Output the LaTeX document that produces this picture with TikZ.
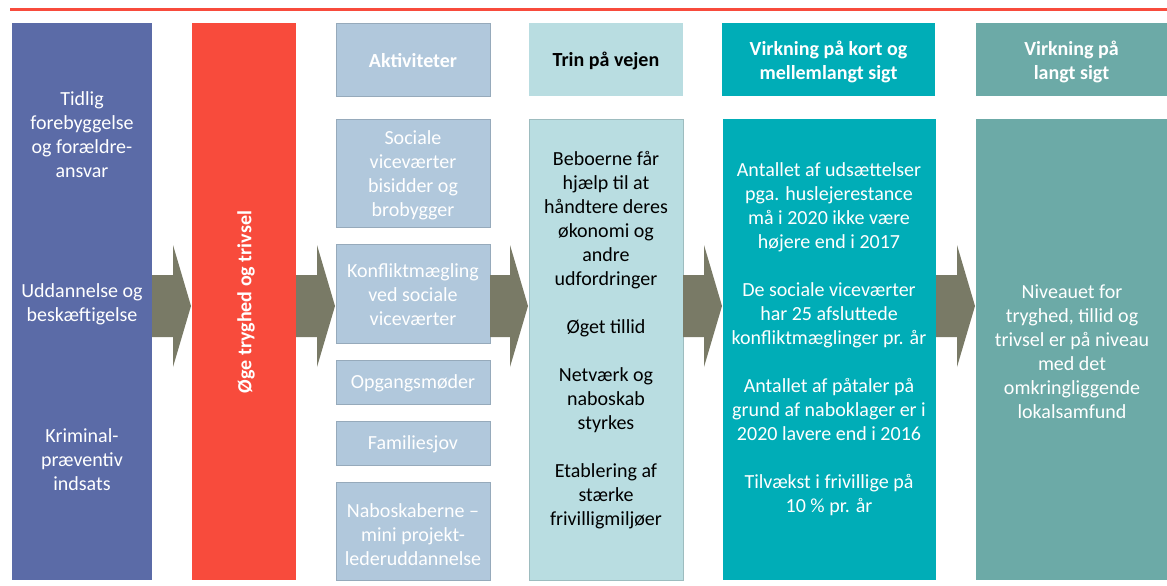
\documentclass[tikz,border=0pt]{standalone}
\usepackage{fontspec}
\setmainfont{Carlito}
\usetikzlibrary{calc}
\definecolor{cblue}{HTML}{5B6BA7}
\definecolor{cred}{HTML}{F84B3C}
\definecolor{cact}{HTML}{B1C8DC}
\definecolor{ctrin}{HTML}{B9DDE1}
\definecolor{cshort}{HTML}{00ADB7}
\definecolor{clong}{HTML}{6CAAA7}
\definecolor{carrow}{HTML}{797A66}
\begin{document}
\begin{tikzpicture}[x=1pt,y=-1pt,
  txt/.style={font=\fontsize{20}{24}\selectfont, align=center, inner sep=0pt},
  boldtxt/.style={font=\fontsize{20}{24}\selectfont\bfseries, align=center, inner sep=0pt},
  panel/.style={anchor=north west, inner sep=0pt, outer sep=0pt},
  blockarrow/.style={fill=carrow}
]
\useasboundingbox (0,0) rectangle (1167,586);
\fill[white] (0,0) rectangle (1167,586);
% top red line
\fill[cred] (10,8) rectangle (1167,11.5);

% column 1
\node[panel, fill=cblue, minimum width=140pt, minimum height=557pt] (c1) at (12,23) {};
\node[txt, text=white] (c1a) at (82,135) {Tidlig\\forebyggelse\\og forældre-\\ansvar};
\node[txt, text=white] (c1b) at (82,304) {Uddannelse og\\beskæftigelse};
\node[txt, text=white] (c1c) at (82,460) {Kriminal-\\præventiv\\indsats};

% column 2
\node[panel, fill=cred, minimum width=104pt, minimum height=557pt] (c2) at (192,23) {};
\node[boldtxt, text=white, rotate=90] (c2t) at (246,302) {Øge tryghed og trivsel};

% activities
\node[panel, fill=cact, draw=cact!85!black, line width=0.4pt, minimum width=154pt, minimum height=73pt] (ah) at (336,23) {};
\node[boldtxt, text=white] (aht) at ($(ah.center)+(0,1.5)$) {Aktiviteter};
\node[panel, fill=cact, draw=cact!85!black, line width=0.4pt, minimum width=154pt, minimum height=108pt] (a1) at (336,119) {};
\node[txt, text=white] (a1t) at (413,175) {Sociale\\viceværter\\bisidder og\\brobygger};
\node[panel, fill=cact, draw=cact!85!black, line width=0.4pt, minimum width=154pt, minimum height=99pt] (a2) at (336,244) {};
\node[txt, text=white] (a2t) at (413,295) {Konfliktmægling\\ved sociale\\viceværter};
\node[panel, fill=cact, draw=cact!85!black, line width=0.4pt, minimum width=154pt, minimum height=44pt] (a3) at (336,360) {};
\node[txt, text=white] (a3t) at (413,383) {Opgangsmøder};
\node[panel, fill=cact, draw=cact!85!black, line width=0.4pt, minimum width=154pt, minimum height=44pt] (a4) at (336,421) {};
\node[txt, text=white] (a4t) at (413,444) {Familiesjov};
\node[panel, fill=cact, draw=cact!85!black, line width=0.4pt, minimum width=154pt, minimum height=98pt] (a5) at (336,482) {};
\node[txt, text=white] (a5t) at (413,535) {Naboskaberne –\\mini projekt-\\lederuddannelse};

% trin
\node[panel, fill=ctrin, minimum width=154pt, minimum height=73pt] (th) at (529,23) {};
\node[boldtxt, text=black] (tht) at ($(th.center)+(0,1.5)$) {Trin på vejen};
\node[panel, fill=ctrin, draw=ctrin!85!black, line width=0.4pt, minimum width=154pt, minimum height=461pt] (tb) at (529,119) {};
\node[txt, text=black] (tbt) at (606,340) {Beboerne får\\hjælp til at\\håndtere deres\\økonomi og\\andre\\udfordringer\\[24pt]Øget tillid\\[24pt]Netværk og\\naboskab\\styrkes\\[24pt]Etablering af\\stærke\\frivilligmiljøer};

% short/medium
\node[panel, fill=cshort, minimum width=213pt, minimum height=73pt] (sh) at (722,23) {};
\node[boldtxt, text=white] (sht) at ($(sh.center)+(0,2)$) {Virkning på kort og\\mellemlangt sigt};
\node[panel, fill=cshort, minimum width=213pt, minimum height=461pt] (sb) at (723,119) {};
\node[txt, text=white] (sbt) at (829,339.5) {Antallet af udsættelser\\pga. huslejerestance\\må i 2020 ikke være\\højere end i 2017\\[24pt]De sociale viceværter\\har 25 afsluttede\\konfliktmæglinger pr. år\\[24pt]Antallet af påtaler på\\grund af naboklager er i\\2020 lavere end i 2016\\[24pt]Tilvækst i frivillige på\\10 \% pr. år};

% long
\node[panel, fill=clong, minimum width=191pt, minimum height=73pt] (lh) at (976,23) {};
\node[boldtxt, text=white] (lht) at ($(lh.center)+(0,2)$) {Virkning på\\langt sigt};
\node[panel, fill=clong, minimum width=191pt, minimum height=461pt] (lb) at (976,119) {};
\node[txt, text=white] (lbt) at (1072,352) {Niveauet for\\tryghed, tillid og\\trivsel er på niveau\\med det\\omkringliggende\\lokalsamfund};

% block arrows
\foreach \A/\B in {c1/c2, c2/a2, a2/tb, tb/sb, sb/lb}{
  \fill[blockarrow] (\A.east |- 0,275) -- ($(\B.west |- 0,275)+(-19,0)$)
    -- ($(\B.west |- 0,245)+(-19,0)$) -- ($(\B.west |- 0,306)+(-1,0)$)
    -- ($(\B.west |- 0,367)+(-19,0)$) -- ($(\B.west |- 0,337)+(-19,0)$)
    -- (\A.east |- 0,337) -- cycle;
}
\end{tikzpicture}
\end{document}
